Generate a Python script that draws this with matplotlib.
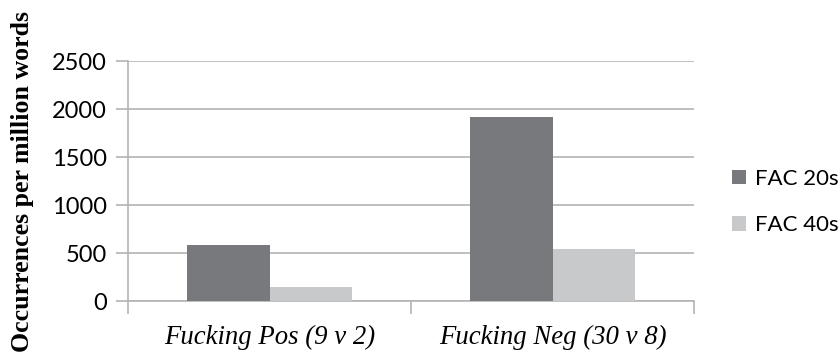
import matplotlib
matplotlib.use("Agg")
import matplotlib.pyplot as plt
import numpy as np

categories = ["Fucking Pos (9 v 2)", "Fucking Neg (30 v 8)"]
series_names = ["FAC 20s", "FAC 40s"]
fac20s = [583, 1915]
fac40s = [148, 542]
yticks = [0, 500, 1000, 1500, 2000, 2500]
ylabel = "Occurrences per million words"

colors = ["#78797d", "#c8c9cb"]
grid_col = "#b4b4b4"

fig = plt.figure(figsize=(8.4, 3.56), dpi=100)
ax = fig.add_axes([128/840, 1-301/356, (694-128)/840, 240/356])

x = np.arange(len(categories))
w = 0.29
ax.bar(x - w/2, fac20s, width=w, color=colors[0], label=series_names[0], zorder=3)
ax.bar(x + w/2, fac40s, width=w, color=colors[1], label=series_names[1], zorder=3)

ax.set_xlim(-0.5, len(categories) - 0.5)
ax.set_ylim(0, 2500)
ax.set_yticks(yticks)
ax.set_yticklabels([str(v) for v in yticks], fontsize=17, family="Lato")
ax.yaxis.grid(True, color=grid_col, linewidth=1.2, zorder=0)
ax.tick_params(axis="y", length=9, width=1.2, color=grid_col, pad=6)

ax.set_xticks(np.arange(len(categories) + 1) - 0.5)
ax.set_xticklabels([])
ax.set_xticks(x, minor=True)
ax.set_xticklabels(categories, minor=True, fontsize=19.3, family="Liberation Serif", style="italic")
ax.tick_params(axis="x", which="major", length=9, width=1.2, color=grid_col)
ax.tick_params(axis="x", which="minor", length=0, pad=17)

for s in ["top", "right"]:
    ax.spines[s].set_visible(False)
for s in ["left", "bottom"]:
    ax.spines[s].set_color(grid_col)
    ax.spines[s].set_linewidth(1.2)

fig.text(23/840, 1 - 181/356, ylabel, rotation=90, ha="center", va="center",
         fontsize=18.6, family="Liberation Serif", weight="bold")

ax.legend(loc="center left", bbox_to_anchor=(732/840, 1 - 202/356),
          bbox_transform=fig.transFigure, frameon=False,
          prop={"family": "Lato", "size": 16},
          handlelength=0.63, handleheight=0.63, handletextpad=0.4,
          labelspacing=1.2, borderpad=0, borderaxespad=0)

fig.savefig("out.png", dpi=100)
